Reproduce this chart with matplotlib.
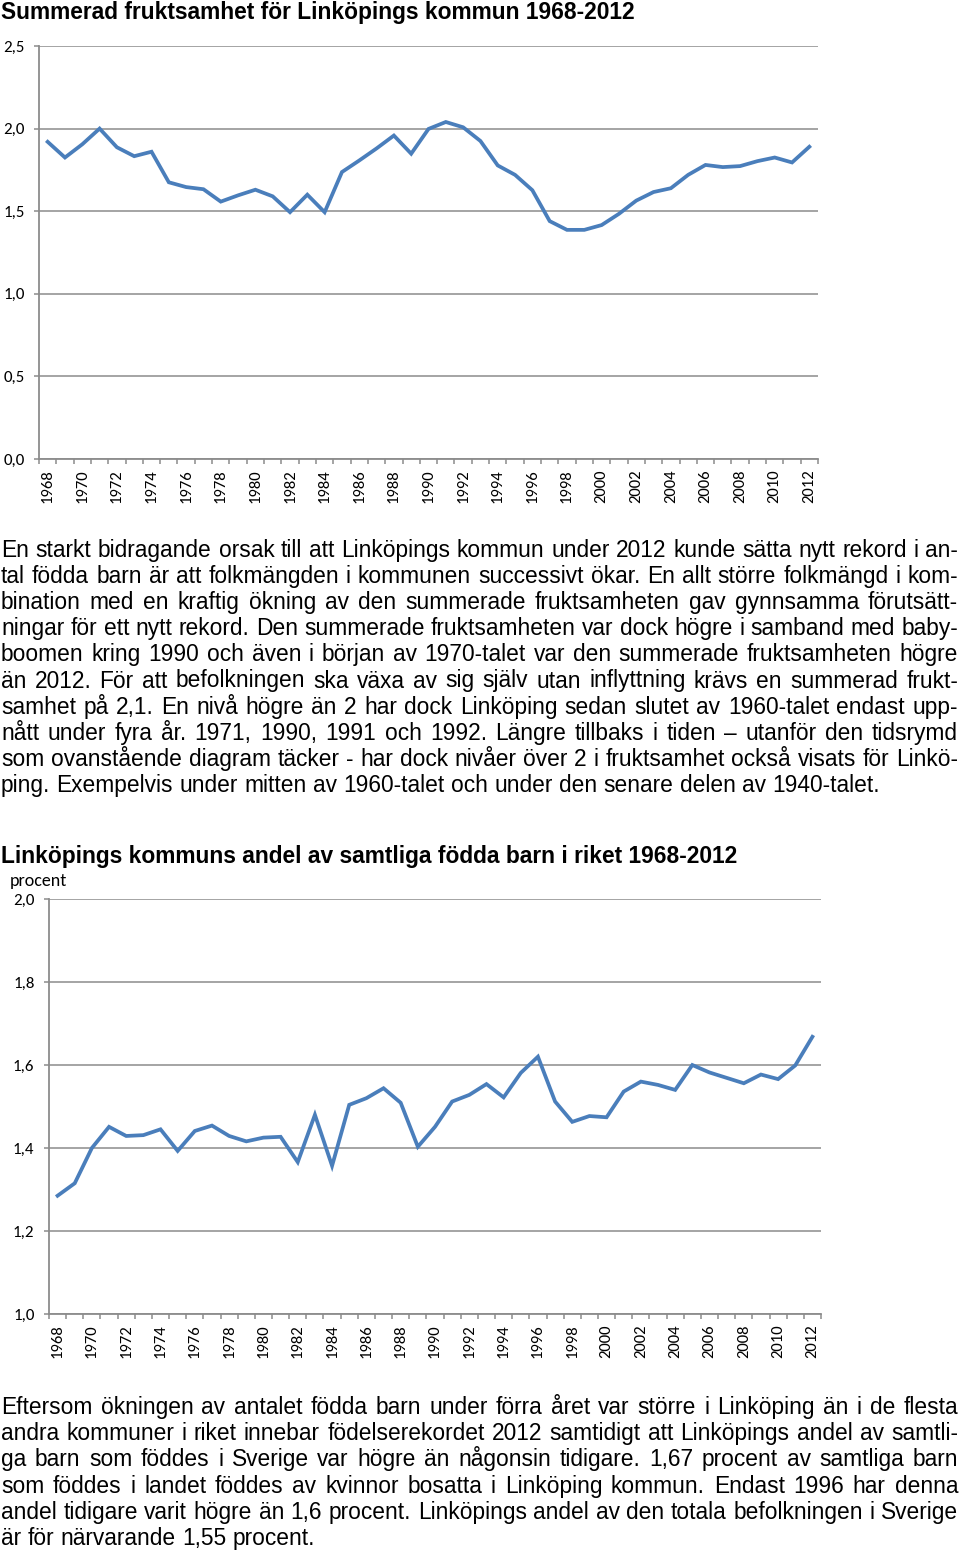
import matplotlib
matplotlib.use('Agg')
import matplotlib.pyplot as plt
import numpy as np

years = list(range(1968, 2013))

# summerad fruktsamhet, Linköpings kommun
tfr = [1.92, 1.825, 1.905, 2.00, 1.887, 1.833, 1.86, 1.675, 1.646, 1.633,
       1.558, 1.596, 1.63, 1.59, 1.494, 1.60, 1.494, 1.737, 1.807, 1.88,
       1.958, 1.848, 1.998, 2.04, 2.008, 1.925, 1.777, 1.72, 1.627, 1.44,
       1.387, 1.387, 1.416, 1.484, 1.564, 1.616, 1.639, 1.72, 1.78, 1.767,
       1.773, 1.803, 1.825, 1.795, 1.89]

# andel av samtliga födda barn i riket, procent
share = [1.285, 1.315, 1.40, 1.451, 1.429, 1.431, 1.445, 1.393, 1.441, 1.454,
         1.429, 1.416, 1.425, 1.427, 1.366, 1.48, 1.357, 1.504, 1.52, 1.544,
         1.509, 1.403, 1.451, 1.512, 1.528, 1.554, 1.522, 1.581, 1.62, 1.512,
         1.463, 1.477, 1.474, 1.536, 1.56, 1.552, 1.54, 1.60, 1.582, 1.569,
         1.556, 1.577, 1.566, 1.599, 1.668]

title1 = "Summerad fruktsamhet för Linköpings kommun 1968-2012"
title2 = "Linköpings kommuns andel av samtliga födda barn i riket 1968-2012"

para1 = [
    "En starkt bidragande orsak till att Linköpings kommun under 2012 kunde sätta nytt rekord i an-",
    "tal födda barn är att folkmängden i kommunen successivt ökar. En allt större folkmängd i kom-",
    "bination med en kraftig ökning av den summerade fruktsamheten gav gynnsamma förutsätt-",
    "ningar för ett nytt rekord. Den summerade fruktsamheten var dock högre i samband med baby-",
    "boomen kring 1990 och även i början av 1970-talet var den summerade fruktsamheten högre",
    "än 2012. För att befolkningen ska växa av sig själv utan inflyttning krävs en summerad frukt-",
    "samhet på 2,1. En nivå högre än 2 har dock Linköping sedan slutet av 1960-talet endast upp-",
    "nått under fyra år. 1971, 1990, 1991 och 1992. Längre tillbaks i tiden – utanför den tidsrymd",
    "som ovanstående diagram täcker - har dock nivåer över 2 i fruktsamhet också visats för Linkö-",
    "ping. Exempelvis under mitten av 1960-talet och under den senare delen av 1940-talet.",
]
para2 = [
    "Eftersom ökningen av antalet födda barn under förra året var större i Linköping än i de flesta",
    "andra kommuner i riket innebar födelserekordet 2012 samtidigt att Linköpings andel av samtli-",
    "ga barn som föddes i Sverige var högre än någonsin tidigare. 1,67 procent av samtliga barn",
    "som föddes i landet föddes av kvinnor bosatta i Linköping kommun. Endast 1996 har denna",
    "andel tidigare varit högre än 1,6 procent. Linköpings andel av den totala befolkningen i Sverige",
    "är för närvarande 1,55 procent.",
]

W, H = 960, 1555
BODY = 'Liberation Sans'
TICKF = 'Carlito'
LINE = '#4A7EBB'
GRID = '#8C8C8C'
TSIZE = 16.4

fig = plt.figure(figsize=(W / 100, H / 100), dpi=100)
renderer = fig.canvas.get_renderer()


def make_axes(left, right, top, bottom):
    return fig.add_axes([left / W, 1 - bottom / H, (right - left) / W, (bottom - top) / H])


def style_chart(ax, values, ymin, ymax, step):
    x = np.arange(len(years))
    ax.plot(x, values, color=LINE, lw=2.7, solid_joinstyle='miter')
    ax.set_xlim(-0.5, len(years) - 0.5)
    ax.set_ylim(ymin, ymax)
    yt = np.arange(ymin, ymax + step / 2, step)
    ax.set_yticks(yt)
    ax.set_yticklabels([('%.1f' % v).replace('.', ',') for v in yt], family=TICKF, fontsize=12.2)
    ax.yaxis.grid(True, color=GRID, lw=1.1)
    ax.set_axisbelow(True)
    # tick marks between categories, labels on every other year
    ax.set_xticks(np.arange(-0.5, len(years), 1))
    ax.set_xticklabels([])
    ax.set_xticks(x[::2], minor=True)
    ax.set_xticklabels([str(y) for y in years[::2]], minor=True, rotation=90,
                       family=TICKF, fontsize=12)
    ax.tick_params(axis='x', which='major', length=3.5, color=GRID, width=1.1, direction='out')
    ax.tick_params(axis='x', which='minor', length=0, pad=7.5)
    ax.tick_params(axis='y', length=3.5, color=GRID, width=1.1, pad=7)
    for s in ['top', 'right']:
        ax.spines[s].set_visible(False)
    for s in ['left', 'bottom']:
        ax.spines[s].set_color(GRID)
        ax.spines[s].set_linewidth(1.3)


def text_width(s, size):
    t = fig.text(0, 0, s, fontsize=size, family=BODY)
    w = t.get_window_extent(renderer).width
    t.remove()
    return w


def justify(lines, y0, dy, size=TSIZE, x0=1.0, x1=958.0):
    space = text_width('a a', size) - 2 * text_width('a', size)
    for i, line in enumerate(lines):
        y = 1 - (y0 + i * dy) / H
        words = line.split(' ')
        widths = [text_width(w, size) for w in words]
        last = i == len(lines) - 1
        gap = space if last else (x1 - x0 - sum(widths)) / (len(words) - 1)
        x = x0
        for w, wd in zip(words, widths):
            fig.text(x / W, y, w, fontsize=size, family=BODY, va='baseline', ha='left')
            x += wd + gap


# top chart
ax1 = make_axes(39, 818, 46, 459)
style_chart(ax1, tfr, 0.0, 2.5, 0.5)
fig.text(1 / W, 1 - 19 / H, title1, fontsize=TSIZE, family=BODY, weight='bold', va='baseline')

justify(para1, 557, 26.1)

# bottom chart
ax2 = make_axes(49, 821, 899, 1314)
style_chart(ax2, share, 1.0, 2.0, 0.2)
fig.text(1 / W, 1 - 863 / H, title2, fontsize=TSIZE, family=BODY, weight='bold', va='baseline')
fig.text(10 / W, 1 - 886 / H, 'procent', fontsize=13, family=TICKF, va='baseline')

justify(para2, 1414, 26.2)

fig.savefig('out.png', dpi=100)
